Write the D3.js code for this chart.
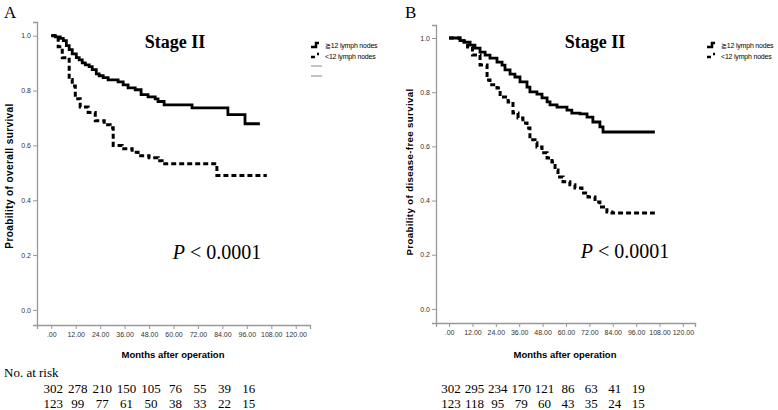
<!DOCTYPE html>
<html lang="en">
<head>
<meta charset="UTF-8">
<title>Stage II survival curves</title>
<script src="https://d3js.org/d3.v7.min.js"></script>
<style>
    body { margin: 0; background: #fff; }
    svg { display: block; }
    .tick text { font-family: "Liberation Sans", Arial, sans-serif; font-size: 7px; fill: #333; }
    .axis path, .axis line { stroke: #999; }
</style>
</head>
<body>
<div id="chart"></div>
<script>
    // ---- data ----
    var xTicks = [0, 12, 24, 36, 48, 60, 72, 84, 96, 108, 120];
    var yTicks = [0, 0.2, 0.4, 0.6, 0.8, 1.0];
    var riskMonths = [0, 12, 24, 36, 48, 60, 72, 84, 96];

    // A: overall survival
    var osHighTime = [0, 2.0, 4.4, 5.9, 7.4, 8.8, 10.3, 12.3, 13.7, 15.2, 16.7, 18.6, 20.1, 22.1, 23.5, 25.5, 27.9, 32.8, 35.3, 37.7, 41.2, 44.1, 47.5, 51.0, 52.4, 55.4, 69.1, 86.7, 95.1, 102.4];
    var osHighSurv = [1.0, 0.996, 0.99, 0.982, 0.964, 0.949, 0.934, 0.920, 0.912, 0.901, 0.894, 0.887, 0.876, 0.861, 0.854, 0.847, 0.839, 0.832, 0.821, 0.810, 0.803, 0.785, 0.777, 0.770, 0.760, 0.748, 0.737, 0.712, 0.679, 0.679];
    var osLowTime = [0, 3.4, 5.4, 8.8, 10.3, 11.8, 14.2, 18.1, 21.6, 26.0, 28.9, 30.4, 34.8, 39.7, 42.6, 48.0, 52.5, 54.4, 81.3, 105.8];
    var osLowSurv = [1.0, 0.96, 0.92, 0.84, 0.817, 0.77, 0.74, 0.72, 0.69, 0.675, 0.664, 0.60, 0.588, 0.575, 0.562, 0.555, 0.544, 0.533, 0.49, 0.49];
    var osRiskHigh = [302, 278, 210, 150, 105, 76, 55, 39, 16];
    var osRiskLow = [123, 99, 77, 61, 50, 38, 33, 22, 15];

    // B: disease-free survival
    var dfsHighTime = [0, 5.6, 7.7, 10.8, 13.3, 15.9, 18.5, 21.0, 24.6, 27.2, 28.7, 31.3, 33.8, 36.4, 40.0, 41.5, 45.1, 47.7, 50.3, 51.8, 55.4, 60.5, 63.0, 67.2, 70.8, 73.8, 77.4, 79.0, 105.6];
    var dfsHighSurv = [1.0, 0.99, 0.985, 0.974, 0.963, 0.948, 0.937, 0.926, 0.911, 0.900, 0.882, 0.867, 0.856, 0.838, 0.819, 0.801, 0.793, 0.779, 0.764, 0.753, 0.745, 0.734, 0.723, 0.720, 0.708, 0.690, 0.672, 0.653, 0.653];
    var dfsLowTime = [0, 5.6, 7.7, 9.5, 12.0, 15.9, 19.5, 21.0, 24.6, 26.2, 30.3, 32.8, 35.4, 37.9, 40.0, 41.5, 44.1, 45.1, 47.7, 50.3, 52.8, 54.4, 55.9, 58.5, 62.0, 64.6, 68.2, 71.3, 74.9, 77.4, 81.0, 83.6, 105.6];
    var dfsLowSurv = [1.0, 0.99, 0.985, 0.967, 0.937, 0.90, 0.845, 0.827, 0.815, 0.782, 0.764, 0.723, 0.705, 0.686, 0.668, 0.624, 0.613, 0.598, 0.576, 0.557, 0.542, 0.513, 0.487, 0.469, 0.458, 0.446, 0.428, 0.413, 0.395, 0.376, 0.358, 0.354, 0.354];
    var dfsRiskHigh = [302, 295, 234, 170, 121, 86, 63, 41, 19];
    var dfsRiskLow = [123, 118, 95, 79, 60, 43, 35, 24, 15];

    var legendLabels = ["\u2267" + "12 lymph nodes", "<12 lymph nodes"];

    var W = 778, H = 410;
    var svg = d3.select("#chart").append("svg")
        .attr("width", W).attr("height", H);

    function zip(t, s) {
        return t.map(function(d, i) { return {t: d, s: s[i]}; });
    }

    function drawPanel(p) {
        var g = svg.append("g");

        var x = d3.scaleLinear().domain(p.xDomain).range(p.xRange);
        var y = d3.scaleLinear().domain(p.yDomain).range(p.yRange);

        // panel letter
        g.append("text")
            .attr("x", p.letterX).attr("y", 18)
            .style("font-family", "'Liberation Serif', 'Times New Roman', serif")
            .style("font-size", "17px")
            .text(p.letter);

        // axes
        g.append("g")
            .attr("class", "axis")
            .attr("transform", "translate(0," + p.yRange[0] + ")")
            .call(d3.axisBottom(x).tickValues(xTicks).tickSize(4).tickPadding(3)
                .tickFormat(function(d) { return d === 0 ? ".00" : d.toFixed(2); }));

        g.append("g")
            .attr("class", "axis")
            .attr("transform", "translate(" + p.xRange[0] + ",0)")
            .call(d3.axisLeft(y).tickValues(yTicks).tickSize(4).tickPadding(2)
                .tickFormat(d3.format(".1f")));

        g.selectAll(".axis path").attr("stroke-width", 1.3);

        // axis titles
        g.append("text")
            .attr("x", p.xTitleX).attr("y", 358)
            .attr("text-anchor", "middle")
            .style("font-family", "'Liberation Sans', Arial, sans-serif")
            .style("font-weight", "bold")
            .style("font-size", "9.5px")
            .text("Months after operation");

        g.append("text")
            .attr("transform", "translate(" + p.yTitleX + "," + p.yTitleY + ") rotate(-90)")
            .attr("text-anchor", "middle")
            .style("font-family", "'Liberation Sans', Arial, sans-serif")
            .style("font-weight", "bold")
            .style("font-size", p.yTitleSize)
            .style("letter-spacing", "0.4px")
            .text(p.yTitle);

        // curves
        var line = d3.line()
            .x(function(d) { return x(d.t); })
            .y(function(d) { return y(d.s); })
            .curve(d3.curveStepAfter);

        g.append("path")
            .datum(zip(p.lowTime, p.lowSurv))
            .attr("fill", "none")
            .attr("stroke", "#000")
            .attr("stroke-width", 3)
            .attr("stroke-dasharray", "5,3")
            .attr("d", line);

        g.append("path")
            .datum(zip(p.highTime, p.highSurv))
            .attr("fill", "none")
            .attr("stroke", "#000")
            .attr("stroke-width", 2.8)
            .attr("d", line);

        // heading and p value
        g.append("text")
            .attr("x", p.titleX).attr("y", 48)
            .attr("text-anchor", "middle")
            .style("font-family", "'Liberation Serif', 'Times New Roman', serif")
            .style("font-weight", "bold")
            .style("font-size", "18px")
            .text("Stage II");

        var pv = g.append("text")
            .attr("x", p.pX).attr("y", p.pY)
            .attr("text-anchor", "middle")
            .style("font-family", "'Liberation Serif', 'Times New Roman', serif")
            .style("font-size", "20px");
        pv.append("tspan").style("font-style", "italic").text("P");
        pv.append("tspan").text(" < 0.0001");

        // legend
        var lx = p.legendX;
        g.append("path")
            .attr("d", "M" + lx + ",47H" + (lx + 5) + "V43H" + (lx + 8))
            .attr("fill", "none").attr("stroke", "#000").attr("stroke-width", 2.5);
        g.append("line")
            .attr("x1", lx).attr("x2", lx + 4).attr("y1", 57).attr("y2", 57)
            .attr("stroke", "#000").attr("stroke-width", 2.5);
        g.append("line")
            .attr("x1", lx + 6).attr("x2", lx + 8).attr("y1", 54).attr("y2", 54)
            .attr("stroke", "#000").attr("stroke-width", 2.5);
        legendLabels.forEach(function(t, i) {
            g.append("text")
                .attr("x", lx + 14).attr("y", 48 + i * 10.5)
                .style("font-family", "'Liberation Sans', Arial, sans-serif")
                .style("font-size", "7px")
                .style("letter-spacing", "-0.2px")
                .text(t);
        });
        for (var k = 0; k < p.extraLines; k++) {
            g.append("line")
                .attr("x1", lx).attr("x2", lx + 11)
                .attr("y1", 66 + k * 10).attr("y2", 66 + k * 10)
                .attr("stroke", "#888").attr("stroke-width", 1);
        }

        // numbers at risk
        [p.riskHigh, p.riskLow].forEach(function(row, r) {
            g.selectAll(null)
                .data(row)
                .enter()
                .append("text")
                .attr("x", function(d, i) { return x(riskMonths[i]) + 2; })
                .attr("y", 393 + r * 15)
                .attr("text-anchor", "middle")
                .style("font-family", "'Liberation Serif', 'Times New Roman', serif")
                .style("font-size", "13px")
                .text(function(d) { return d; });
        });
    }

    drawPanel({
        letter: "A", letterX: 4,
        xDomain: [-7, 127], xRange: [37, 310],
        yDomain: [-0.055, 1.05], yRange: [325, 22],
        xTitleX: 173, yTitleX: 13, yTitleY: 176, yTitleSize: "10px",
        yTitle: "Proability of overall survival",
        highTime: osHighTime, highSurv: osHighSurv,
        lowTime: osLowTime, lowSurv: osLowSurv,
        titleX: 175, pX: 217, pY: 259,
        legendX: 311, extraLines: 2,
        riskHigh: osRiskHigh, riskLow: osRiskLow
    });

    drawPanel({
        letter: "B", letterX: 405,
        xDomain: [-6.7, 126.2], xRange: [436, 695],
        yDomain: [-0.052, 1.048], yRange: [323, 25],
        xTitleX: 565, yTitleX: 413, yTitleY: 172, yTitleSize: "9.6px",
        yTitle: "Proability of disease-free survival",
        highTime: dfsHighTime, highSurv: dfsHighSurv,
        lowTime: dfsLowTime, lowSurv: dfsLowSurv,
        titleX: 595, pX: 625, pY: 258,
        legendX: 707, extraLines: 0,
        riskHigh: dfsRiskHigh, riskLow: dfsRiskLow
    });

    // "No. at risk" caption
    svg.append("text")
        .attr("x", 4).attr("y", 377)
        .style("font-family", "'Liberation Serif', 'Times New Roman', serif")
        .style("font-size", "13px")
        .text("No. at risk");
</script>
</body>
</html>
